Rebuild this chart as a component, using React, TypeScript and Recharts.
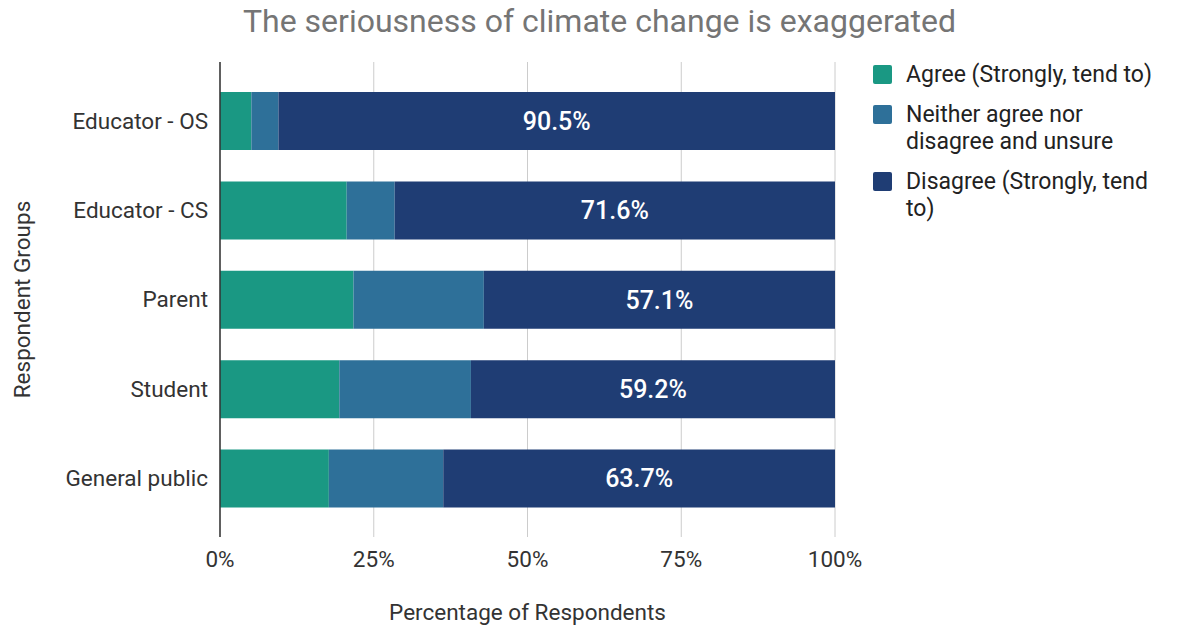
import React from 'react';
import { BarChart, Bar, XAxis, YAxis, CartesianGrid, LabelList, Label } from 'recharts';

const groups = ['Educator - OS', 'Educator - CS', 'Parent', 'Student', 'General public'];
const agree = [5.1, 20.6, 21.7, 19.4, 17.7];
const neither = [4.4, 7.8, 21.2, 21.4, 18.6];
const disagree = [90.5, 71.6, 57.1, 59.2, 63.7];
const xTicks = [0, 25, 50, 75, 100];

const seriesNames = ['Agree (Strongly, tend to)', 'Neither agree nor disagree and unsure', 'Disagree (Strongly, tend to)'];
const seriesColors = ['#1a9883', '#2e7099', '#1f3d74'];

const data = groups.map((g, i) => ({
  group: g,
  agree: agree[i],
  neither: neither[i],
  disagree: disagree[i]
}));

const FONT = 'Roboto, "Noto Sans", sans-serif';

// legend text wraps like the original, so lines are given explicitly
const legendLines = [
  ['Agree (Strongly, tend to)'],
  ['Neither agree nor', 'disagree and unsure'],
  ['Disagree (Strongly, tend', 'to)']
];

const CustomLegend = () => (
  <div
    style={{
      position: 'absolute',
      left: 873,
      top: 61,
      fontFamily: FONT,
      fontSize: 23,
      color: '#222',
      lineHeight: '27px'
    }}
  >
    {legendLines.map((l, i) => (
      <div key={i} title={seriesNames[i]} style={{ display: 'flex', alignItems: 'flex-start', marginBottom: 13 }}>
        <div
          style={{
            width: 19,
            height: 19,
            borderRadius: 2,
            backgroundColor: seriesColors[i],
            marginTop: 4,
            marginRight: 14,
            flexShrink: 0
          }}
        />
        <div>
          {l.map((t, j) => (
            <div key={j}>{t}</div>
          ))}
        </div>
      </div>
    ))}
  </div>
);

const App: React.FC = () => {
  return (
    <div style={{ position: 'absolute', left: 0, top: 0, width: 1189, height: 630, background: '#fff' }}>
      <div
        style={{
          position: 'absolute',
          top: 0,
          left: 0,
          width: 1199,
          textAlign: 'center',
          fontFamily: FONT,
          fontSize: 32,
          color: '#757575',
          lineHeight: '42px'
        }}
      >
        The seriousness of climate change is exaggerated
      </div>
      <BarChart
        width={1189}
        height={630}
        data={data}
        layout="vertical"
        margin={{ top: 62, right: 354, left: 0, bottom: 0 }}
        barSize={58}
        style={{ fontFamily: FONT, position: 'absolute', left: 0, top: 0 }}
      >
        <CartesianGrid horizontal={false} stroke="#cccccc" />
        <XAxis
          type="number"
          domain={[0, 100]}
          ticks={xTicks}
          tickFormatter={(v) => `${v}%`}
          axisLine={false}
          tickLine={false}
          tickMargin={8}
          height={93}
          tick={{ fontSize: 22.5, fill: '#333' }}
        >
          <Label value="Percentage of Respondents" position="insideBottom" offset={10} style={{ fontSize: 22.5, fill: '#333' }} />
        </XAxis>
        <YAxis
          type="category"
          dataKey="group"
          width={220}
          axisLine={{ stroke: '#333', strokeWidth: 1.5 }}
          tickLine={false}
          tickMargin={6}
          padding={{ top: 14, bottom: 14 }}
          tick={{ fontSize: 22.5, fill: '#333' }}
        >
          <Label
            content={({ viewBox }: any) => (
              <text
                x={22}
                y={viewBox.y + viewBox.height / 2}
                transform={`rotate(-90, 22, ${viewBox.y + viewBox.height / 2})`}
                textAnchor="middle"
                dominantBaseline="central"
                fontSize={22.5}
                fill="#333"
              >
                Respondent Groups
              </text>
            )}
          />
        </YAxis>
        <Bar dataKey="agree" name={seriesNames[0]} stackId="a" fill={seriesColors[0]} isAnimationActive={false} />
        <Bar dataKey="neither" name={seriesNames[1]} stackId="a" fill={seriesColors[1]} isAnimationActive={false} />
        <Bar dataKey="disagree" name={seriesNames[2]} stackId="a" fill={seriesColors[2]} isAnimationActive={false}>
          <LabelList
            dataKey="disagree"
            position="center"
            formatter={(v: any) => `${v}%`}
            style={{ fill: '#fff', fontSize: 25, fontWeight: 500 }}
          />
        </Bar>
      </BarChart>
      <CustomLegend />
    </div>
  );
};

export default App;
